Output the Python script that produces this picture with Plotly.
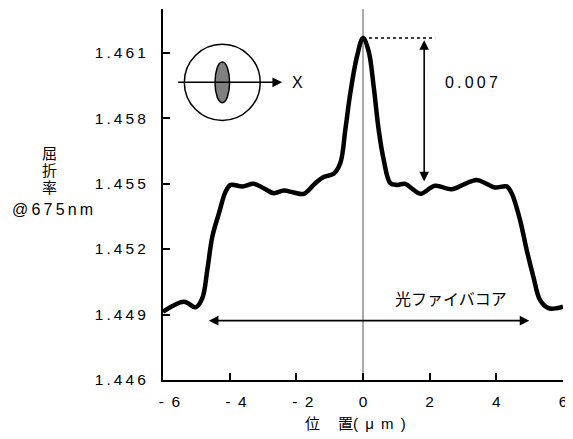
import plotly.graph_objects as go

# ---- data ----
position_um = [-6.0, -5.37, -5.02, -4.82, -4.67, -4.52, -4.32, -4.12,
               -3.97, -3.62, -3.28, -2.98, -2.68, -2.38, -2.08,
               -1.78, -1.43, -1.18, -0.88, -0.68, -0.53, -0.38, -0.18,
               0.0, 0.17, 0.32, 0.47, 0.62, 0.82, 1.02, 1.27, 1.51, 1.72,
               2.16, 2.66, 3.06, 3.41, 3.71, 3.96, 4.31, 4.46,
               4.71, 4.91, 5.11, 5.31, 5.56, 5.81, 6.0]
refractive_index = [1.44913, 1.44959, 1.44933, 1.44975, 1.45105, 1.45257, 1.45365, 1.45464,
                    1.45494, 1.45487, 1.45499, 1.45479, 1.45456, 1.45468, 1.45459,
                    1.45453, 1.45502, 1.45530, 1.45545, 1.45594, 1.45747, 1.45915, 1.46083,
                    1.46167, 1.46106, 1.45945, 1.45747, 1.45609, 1.45502, 1.45494, 1.45499, 1.45472, 1.45453,
                    1.45490, 1.45474, 1.45499, 1.45517, 1.45499, 1.45482, 1.45487, 1.45456,
                    1.45334, 1.45196, 1.45074, 1.44967, 1.44929, 1.44929, 1.44936]

y_tick_vals = [1.446, 1.449, 1.452, 1.455, 1.458, 1.461]
y_tick_labels = ["1.446", "1.449", "1.452", "1.455", "1.458", "1.461"]
x_tick_vals = [-6, -4, -2, 0, 2, 4, 6]
x_tick_labels = ["-6", "-4", "-2", "0", "2", "4", "6"]

peak_x = 0.0
peak_n = 1.46167
delta_label = "0.007"
core_label = "光ファイバコア"
y_title_kanji = ["屈", "折", "率"]
y_title_unit = "@675nm"

LAT = "Liberation Sans, Arial, sans-serif"
CJK = "Noto Sans CJK JP, Liberation Sans, sans-serif"
TS = "\u2009"


def sp(s):
    return TS.join(s)


def xlab(s):
    # negative labels are written "- n" and sit slightly right of their tick
    if s.startswith("-"):
        return "\u00a0\u00a0\u00a0-\u00a0\u2009" + s[1:]
    return s


# page body has an 8px margin; the figure is sized/offset to compensate
OFF = 8
FIG_W, FIG_H = 573 - OFF, 439 - OFF
PL, PR, PT, PB = 162.5, 563.0, 9.0, 380.0   # plot area in window pixels
ML, MT = PL - OFF, PT - OFF
MR, MB = (FIG_W + OFF) - PR, (FIG_H + OFF) - PB

fig = go.Figure()
fig.add_trace(go.Scatter(
    x=position_um, y=refractive_index, mode="lines",
    line=dict(color="black", width=4.5, shape="spline", smoothing=1.0),
    showlegend=False, hoverinfo="skip"))

fig.update_layout(
    width=FIG_W, height=FIG_H,
    margin=dict(l=ML, r=MR, t=MT, b=MB, pad=0),
    paper_bgcolor="white", plot_bgcolor="white",
    font=dict(family=LAT, size=16, color="black"),
    xaxis=dict(range=[-6, 6], tickvals=x_tick_vals, ticktext=[xlab(t) for t in x_tick_labels],
               ticks="inside", ticklen=7, tickwidth=1.5, tickcolor="black",
               showline=True, linecolor="black", linewidth=2, showgrid=False, zeroline=False,
               ticklabelstandoff=6, tickfont=dict(family=LAT, size=15.5)),
    yaxis=dict(range=[1.446, 1.463], tickvals=y_tick_vals, ticktext=[sp(t) for t in y_tick_labels],
               ticks="inside", ticklen=7, tickwidth=1.5, tickcolor="black",
               showline=True, linecolor="black", linewidth=2, showgrid=False, zeroline=False,
               ticklabelstandoff=12, tickfont=dict(family=LAT, size=15.5)),
)

# vertical reference line at x = 0
fig.add_shape(type="line", xref="x", yref="paper", x0=0, x1=0, y0=0, y1=1,
              line=dict(color="#555555", width=1), layer="below")

# fibre cross-section inset
fig.add_shape(type="circle", xref="x", yref="y", x0=-5.36, x1=-3.084, y0=1.457894, y1=1.46138,
              line=dict(color="black", width=1.5))
fig.add_shape(type="circle", xref="x", yref="y", x0=-4.44, x1=-4.003, y0=1.458706, y1=1.460568,
              line=dict(color="black", width=1.5), fillcolor="#808080")
fig.add_annotation(x=-2.425, y=1.45964, ax=-5.59, ay=1.45964, xref="x", yref="y",
                   axref="x", ayref="y", text="", showarrow=True, arrowhead=2,
                   arrowsize=1.3, arrowwidth=1.5, arrowcolor="black")
fig.add_annotation(x=-2.2, y=1.45964, xref="x", yref="y", text="X", showarrow=False,
                   xanchor="left", font=dict(family=LAT, size=16))

# peak height marker
fig.add_shape(type="line", xref="x", yref="y", x0=peak_x, x1=2.165, y0=peak_n, y1=peak_n,
              line=dict(color="black", width=1.5, dash="dot"))
fig.add_annotation(x=1.835, y=1.45510, ax=1.835, ay=1.46164, xref="x", yref="y",
                   axref="x", ayref="y", text="", showarrow=True, arrowhead=2, arrowside="end+start",
                   arrowsize=1.2, arrowwidth=1.6, arrowcolor="black")
fig.add_annotation(x=3.26, y=1.45962, xref="x", yref="y", text=sp(delta_label), showarrow=False,
                   font=dict(family=LAT, size=16))

# core width arrow
fig.add_annotation(x=4.99, y=1.44872, ax=-4.67, ay=1.44872, xref="x", yref="y",
                   axref="x", ayref="y", text="", showarrow=True, arrowhead=2, arrowside="end+start",
                   arrowsize=1.2, arrowwidth=1.6, arrowcolor="black")
fig.add_annotation(x=2.64, y=1.44978, xref="x", yref="y", text=core_label, showarrow=False,
                   font=dict(family=CJK, size=16))


def px(x):
    return (x - PL) / (PR - PL)


def py(y):
    return (PB - y) / (PB - PT)


# vertical y-axis title: stacked kanji, tight line pitch
kanji_text = "<br>".join("<span style='font-size:15px'>%s</span>" % k for k in y_title_kanji)
fig.add_annotation(x=px(48.5), y=py(169), xref="paper", yref="paper", text=kanji_text,
                   xanchor="center", yanchor="middle",
                   showarrow=False, font=dict(family=CJK, size=13))
fig.add_annotation(x=px(51.5), y=py(209.5), xref="paper", yref="paper", text=sp(y_title_unit),
                   xanchor="center", yanchor="middle",
                   showarrow=False, font=dict(family=LAT, size=16))
fig.add_annotation(x=px(355), y=py(423), xref="paper", yref="paper",
                   xanchor="center", yanchor="middle",
                   text="位\u3000\u2009置<span style='font-family:Liberation Sans'>"
                        "(\u00a0\u2009μ\u00a0\u2009m\u00a0\u2009)</span>",
                   showarrow=False, font=dict(family=CJK, size=15))

fig.write_html("out.html")
